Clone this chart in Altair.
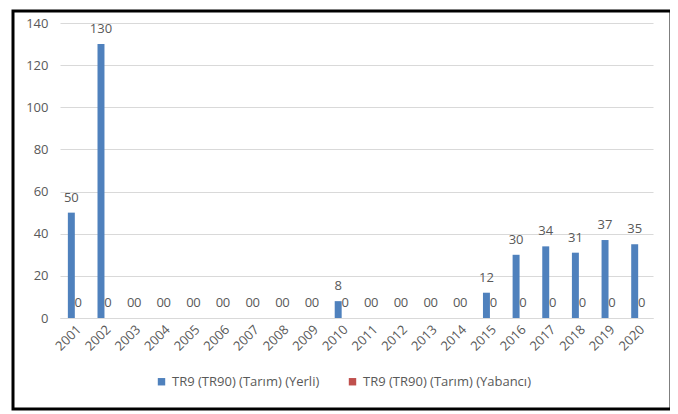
import altair as alt
import pandas as pd

years = [str(y) for y in range(2001, 2021)]
yerli = [50, 130, 0, 0, 0, 0, 0, 0, 0, 8, 0, 0, 0, 0, 12, 30, 34, 31, 37, 35]
yabanci = [0, 0, 0, 0, 0, 0, 0, 0, 0, 0, 0, 0, 0, 0, 0, 0, 0, 0, 0, 0]
series_names = ["TR9 (TR90) (Tarım) (Yerli)", "TR9 (TR90) (Tarım) (Yabancı)"]
colors = ["#4F81BD", "#C0504D"]
y_ticks = [0, 20, 40, 60, 80, 100, 120, 140]

rows = []
for i, yr in enumerate(years):
    rows.append({"Yıl": yr, "Seri": series_names[0], "Değer": yerli[i]})
    rows.append({"Yıl": yr, "Seri": series_names[1], "Değer": yabanci[i]})
df = pd.DataFrame(rows)

W, H = 593, 295
FONT = "Open Sans"
GRAY = "#595959"

x = alt.X(
    "Yıl:N",
    sort=years,
    scale=alt.Scale(paddingInner=0.53, paddingOuter=0.265),
    axis=alt.Axis(
        title=None,
        labelAngle=-45,
        ticks=False,
        domain=True,
        domainColor="#d9d9d9",
        labelPadding=5,
    ),
)
xo = alt.XOffset("Seri:N", sort=series_names)
y = alt.Y(
    "Değer:Q",
    scale=alt.Scale(domain=[0, 140], nice=False),
    axis=alt.Axis(
        title=None,
        values=y_ticks,
        ticks=False,
        domain=False,
        grid=True,
        gridColor="#d9d9d9",
        labelPadding=12,
    ),
)
color = alt.Color(
    "Seri:N",
    sort=series_names,
    scale=alt.Scale(domain=series_names, range=colors),
    legend=alt.Legend(
        title=None,
        orient="none",
        direction="horizontal",
        legendX=95,
        legendY=352,
        symbolType="square",
        symbolSize=55,
        symbolStrokeWidth=0,
        labelFontSize=13,
        labelFont=FONT,
        labelColor=GRAY,
        labelLimit=400,
        columnPadding=26,
        labelOffset=4,
    ),
)

base = alt.Chart(df)
bars = base.mark_bar().encode(x=x, xOffset=xo, y=y, color=color)
labels = base.mark_text(
    baseline="middle", dy=-15, font=FONT, fontSize=13, color=GRAY
).encode(x=x, xOffset=xo, y=y, text=alt.Text("Değer:Q"))

border = alt.Chart(pd.DataFrame({"k": [0]})).mark_rect(
    filled=False, stroke="black", strokeWidth=3
).encode(
    x=alt.value(-47), x2=alt.value(611), y=alt.value(-12), y2=alt.value(386)
)

chart = alt.layer(border, bars, labels).properties(
    width=W,
    height=H,
    autosize=alt.AutoSizeParams(type="none"),
    padding={"left": 52, "top": 15, "right": 17, "bottom": 94},
).configure_view(stroke=None).configure_axis(
    labelFont=FONT, labelFontSize=13, labelColor=GRAY
)

chart.save("out.html", embed_options={"renderer": "svg", "actions": False})
